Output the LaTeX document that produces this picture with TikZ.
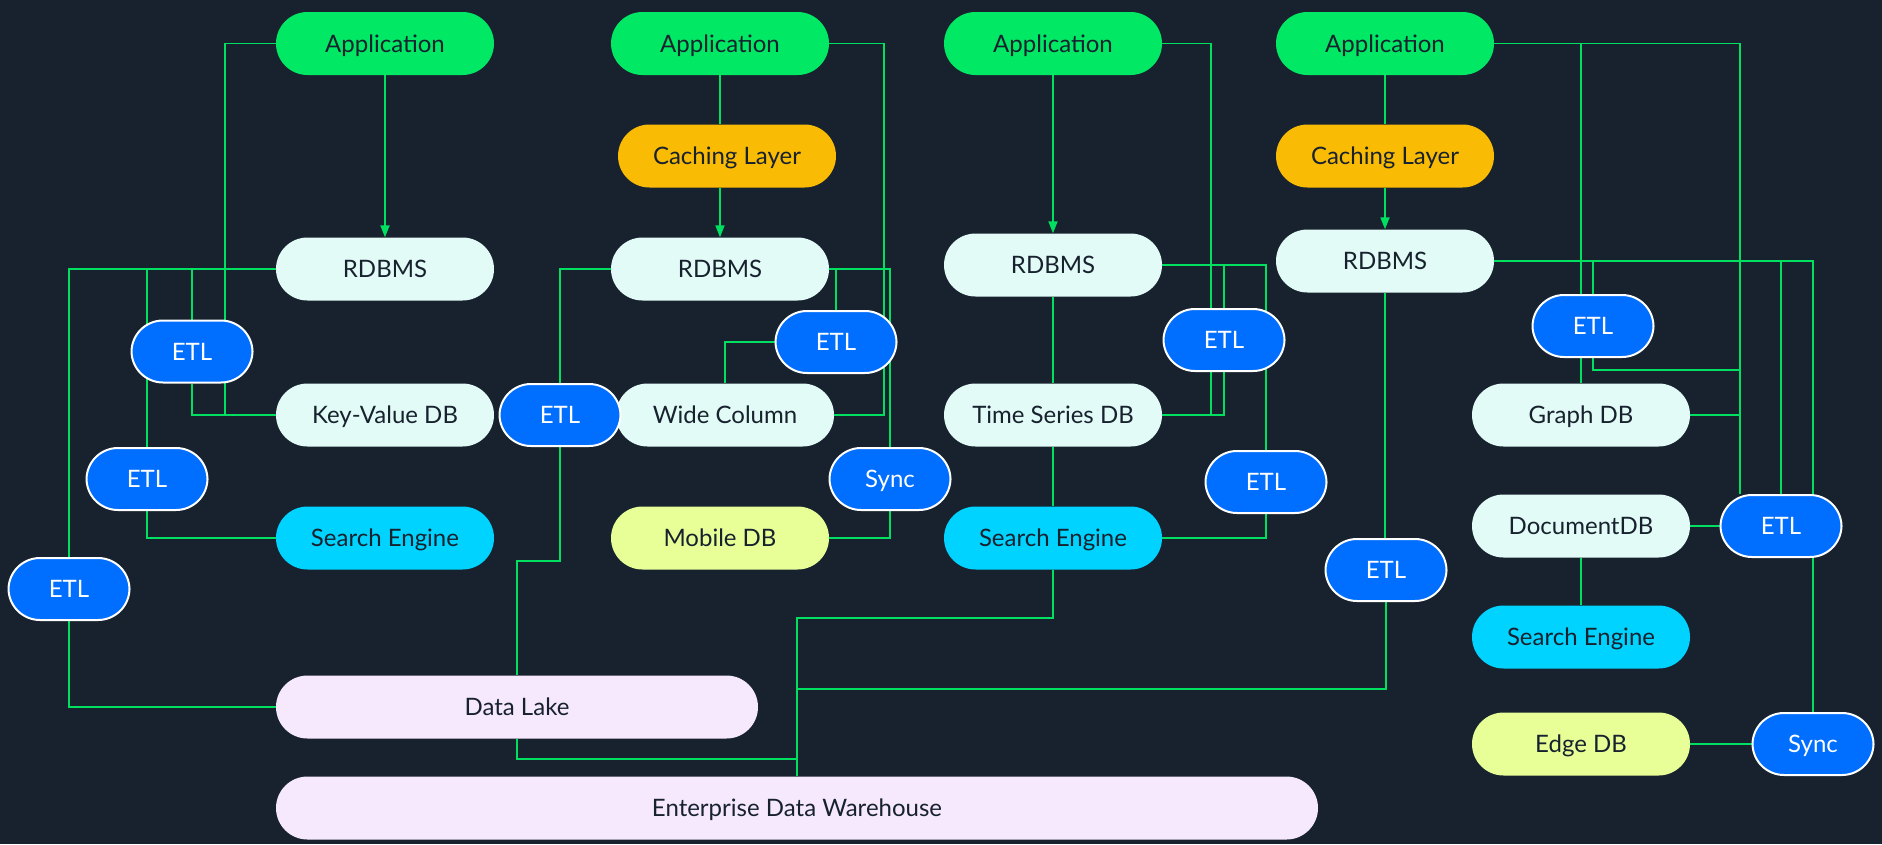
\documentclass[tikz,border=0pt]{standalone}
\usepackage{fontspec}
\setmainfont{Lato}
\usetikzlibrary{arrows.meta,calc}
\definecolor{bgc}{HTML}{17222E}
\definecolor{appg}{HTML}{00E864}
\definecolor{lineg}{HTML}{00E060}
\definecolor{cachey}{HTML}{FABB05}
\definecolor{mint}{HTML}{E2FBF6}
\definecolor{etlb}{HTML}{006EFF}
\definecolor{cyanb}{HTML}{00D3FF}
\definecolor{limeb}{HTML}{E8FF98}
\definecolor{lav}{HTML}{F7E9FD}
\definecolor{ink}{HTML}{17222E}
\pgfdeclarelayer{back}
\pgfsetlayers{back,main}
\begin{document}
\begin{tikzpicture}[x=1pt,y=-1pt,
  pill/.style={rectangle,rounded corners=31.5pt,minimum height=63pt,inner sep=0pt,text=ink,font=\fontsize{24}{28}\selectfont,text height=17.2pt,text depth=0pt},
  dbbox/.style={pill,fill=mint,minimum width=218pt},
  appbox/.style={pill,fill=appg,minimum width=218pt},
  cachebox/.style={pill,fill=cachey,minimum width=218pt},
  sebox/.style={pill,fill=cyanb,minimum width=218pt},
  limebox/.style={pill,fill=limeb,minimum width=218pt},
  lakebox/.style={pill,fill=lav},
  etlbox/.style={pill,fill=etlb,draw=white,line width=2pt,minimum width=121pt,minimum height=62pt,text=white},
  link/.style={draw=lineg,line width=1.8pt},
  arr/.style={link,-{Triangle[length=12pt,width=9pt]}}]
\useasboundingbox (0,0) rectangle (1882,844);
% column 1
\node[appbox] (app1) at (385,43.5) {Application};
\node[dbbox] (rdb1) at (385,269) {RDBMS};
\node[dbbox] (kv) at (385,415) {Key-Value DB};
\node[sebox] (se1) at (385,538) {Search Engine};
\node[etlbox] (etl1) at (192,351.5) {ETL};
\node[etlbox] (etl2) at (147,479) {ETL};
\node[etlbox] (etl3) at (69,589) {ETL};
\node[lakebox,minimum width=482pt] (lake) at (517,707) {Data Lake};
\node[lakebox,minimum width=1042pt] (edw) at (797,808) {Enterprise Data Warehouse};
% column 2
\node[appbox] (app2) at (720,43.5) {Application};
\node[cachebox] (cache2) at (727,156) {Caching Layer};
\node[dbbox] (rdb2) at (720,269) {RDBMS};
\node[dbbox] (wide) at (725,415) {Wide Column};
\node[etlbox] (etl4) at (560,415) {ETL};
\node[etlbox] (etl5) at (836,342) {ETL};
\node[etlbox] (sync1) at (890,479) {Sync};
\node[limebox] (mobile) at (720,538) {Mobile DB};
% column 3
\node[appbox] (app3) at (1053,43.5) {Application};
\node[dbbox] (rdb3) at (1053,265) {RDBMS};
\node[dbbox] (ts) at (1053,415) {Time Series DB};
\node[sebox] (se2) at (1053,538) {Search Engine};
\node[etlbox] (etl6) at (1224,340) {ETL};
\node[etlbox] (etl7) at (1266,482) {ETL};
% column 4
\node[appbox] (app4) at (1385,43.5) {Application};
\node[cachebox] (cache4) at (1385,156) {Caching Layer};
\node[dbbox] (rdb4) at (1385,261) {RDBMS};
\node[etlbox] (etl8) at (1386,570) {ETL};
\node[etlbox] (etl9) at (1593,326) {ETL};
\node[dbbox] (graph) at (1581,415) {Graph DB};
\node[dbbox] (doc) at (1581,526) {DocumentDB};
\node[etlbox] (etl10) at (1781,526) {ETL};
\node[sebox] (se4) at (1581,637) {Search Engine};
\node[limebox] (edge) at (1581,744) {Edge DB};
\node[etlbox] (sync2) at (1813,744) {Sync};
\coordinate (j1) at (1740,370);
\begin{pgfonlayer}{back}
\fill[bgc] (0,0) rectangle (1882,844);
% column 1
\draw[arr] (app1.south) -- (rdb1.north);
\draw[link] (app1.west) -| ($(kv.west)+(-51,0)$) -- (kv.west);
\draw[link] (rdb1.west) -| (etl3.north);
\draw[link] (rdb1.west) -| (etl2.north);
\draw[link] (rdb1.west) -| (etl1.north);
\draw[link] (etl1.south) |- (kv.west);
\draw[link] (etl2.south) |- (se1.west);
\draw[link] (etl3.south) |- (lake.west);
\draw[link] (lake.south) -- ++(0,20) -| (edw.north);
% column 2
\draw[link] (app2.south) -- (app2.south |- cache2.north);
\draw[arr] (cache2.south -| rdb2.north) -- (rdb2.north);
\draw[link] (app2.east) -| ($(wide.east)+(50,0)$) -- (wide.east);
\draw[link] (rdb2.west) -| (etl4.north);
\draw[link] (etl4.south) -- ++(0,114) -| (lake.north);
\draw[link] (rdb2.east) -| (sync1.north);
\draw[link] (rdb2.east) -| (etl5.north);
\draw[link] (etl5.west) -| (wide.north);
\draw[link] (sync1.south) |- (mobile.east);
% column 3
\draw[arr] (app3.south) -- (rdb3.north);
\draw[link] (rdb3.south) -- (ts.north);
\draw[link] (ts.south) -- (se2.north);
\draw[link] (app3.east) -| ($(ts.east)+(49,0)$) -- (ts.east);
\draw[link] (rdb3.east) -| (etl6.north);
\draw[link] (rdb3.east) -| (etl7.north);
\draw[link] (etl6.south) |- (ts.east);
\draw[link] (etl7.south) |- (se2.east);
\draw[link] (se2.south) -- ++(0,48) -| (edw.north);
% column 4
\draw[link] (app4.south) -- (cache4.north);
\draw[arr] (cache4.south) -- (rdb4.north);
\draw[link] (rdb4.south) -- (rdb4.south |- etl8.north);
\draw[link] (etl8.south) |- ($(edw.north)+(0,-87)$);
\draw[link] (app4.east) -| ([xshift=-41pt]etl10.north);
\draw[link] (app4.east) -| (graph.north);
\draw[link] (rdb4.east) -| (etl9.north);
\draw[link] (rdb4.east) -| (etl10.north);
\draw[link] (rdb4.east) -| ([xshift=32pt]etl10.north);
\draw[link] (etl9.south) |- (j1);
\draw[link] (graph.east) -- (graph.east -| j1);
\draw[link] (doc.east) -- (etl10.west);
\draw[link] (doc.south) -- (se4.north);
\draw[link] ([xshift=32pt]etl10.south) -- (sync2.north);
\draw[link] (edge.east) -- (sync2.west);
\end{pgfonlayer}
\end{tikzpicture}
\end{document}
